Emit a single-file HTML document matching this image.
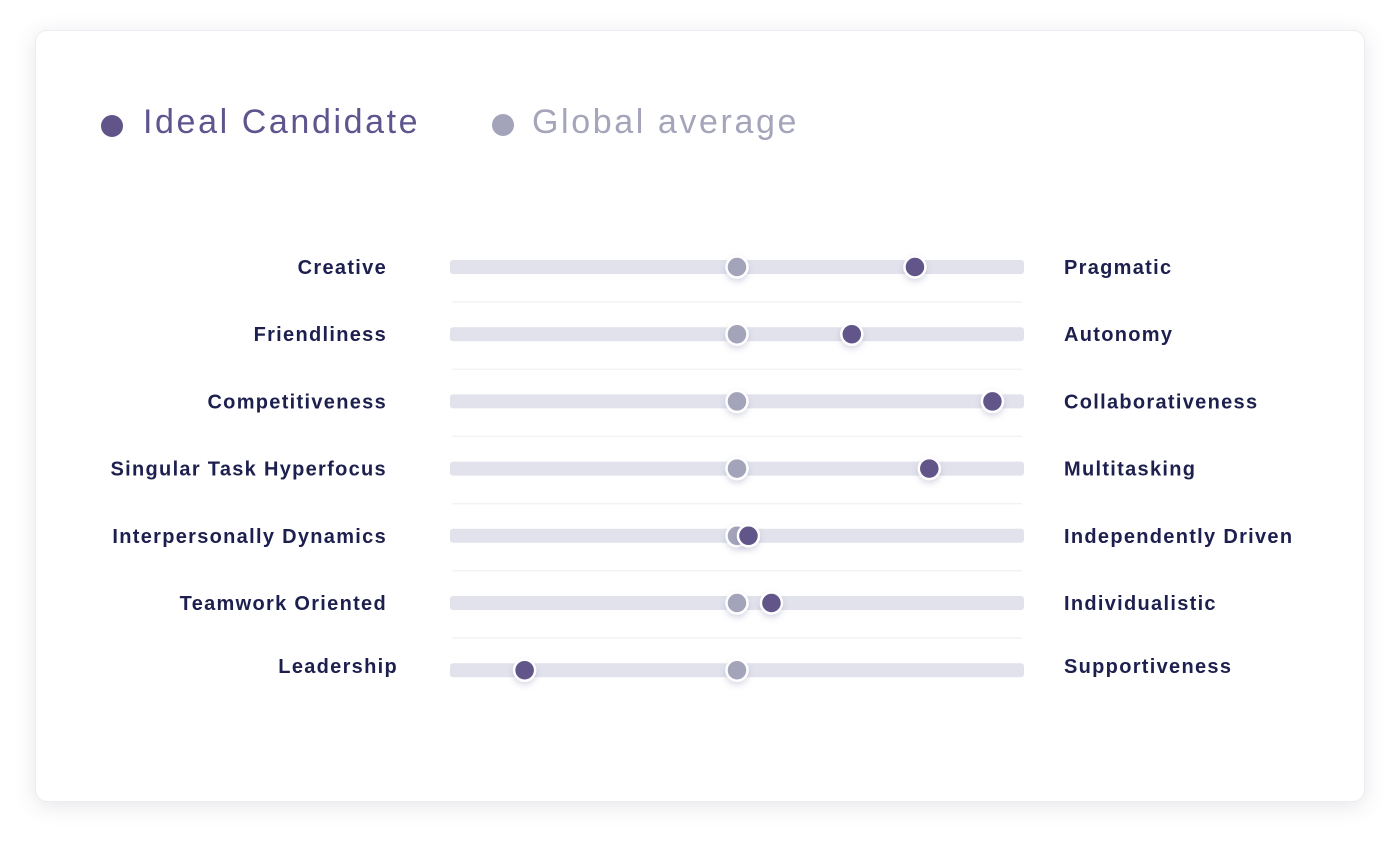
<!DOCTYPE html>
<html><head><meta charset="utf-8"><style>
body{margin:0;width:1400px;height:842px;background:#fff;font-family:"Liberation Sans",sans-serif;overflow:hidden}
.card{position:absolute;left:35px;top:30px;width:1330px;height:772px;border-radius:12px;background:#fff;box-shadow:0 4px 22px rgba(60,60,90,0.13);border:1px solid #ececf2;box-sizing:border-box}
.leg{position:absolute;top:103px;font-size:34px;letter-spacing:2.6px}
.ldot{position:absolute;width:22px;height:22px;border-radius:50%}
</style></head><body>
<div class="card"></div>
<div class="ldot" style="left:101px;top:115px;background:#605489"></div>
<div class="leg" style="left:143px;color:#5e548e">Ideal Candidate</div>
<div class="ldot" style="left:492px;top:114px;background:#a3a4ba"></div>
<div class="leg" style="left:532px;color:#a4a5bb">Global average</div>
<svg id="chart" width="1400" height="842" style="position:absolute;left:0;top:0">
<defs><filter id="sh" x="-1" y="-1" width="3" height="3"><feDropShadow dx="0" dy="3" stdDeviation="3" flood-color="#6a6a9a" flood-opacity="0.25"/></filter></defs>
</svg>
<script>
const leftLabels=["Creative","Friendliness","Competitiveness","Singular Task Hyperfocus","Interpersonally Dynamics","Teamwork Oriented","Leadership"];
const rightLabels=["Pragmatic","Autonomy","Collaborativeness","Multitasking","Independently Driven","Individualistic","Supportiveness"];
const globalValues=[50,50,50,50,50,50,50];
const idealValues=[81,70,94.5,83.5,52,56,13];
const svg=document.getElementById('chart');
const NS='http://www.w3.org/2000/svg';
const x0=450,x1=1024;
function xScale(v){return x0+(x1-x0)*v/100;}
function yRow(i){return 267+i*67.2;}
function mk(t,a){const e=document.createElementNS(NS,t);for(const k in a)e.setAttribute(k,a[k]);svg.appendChild(e);return e;}
leftLabels.forEach((lab,i)=>{
  const y=yRow(i);
  const last=i===leftLabels.length-1;
  const ly=last?y-4:y;
  if(!last){const s=mk('line',{x1:452,x2:1022,y1:y+35,y2:y+35,stroke:'#f3f3f7','stroke-width':1.5});
  
  }
  const tr=mk('rect',{x:x0,y:y-7,width:x1-x0,height:14,rx:3,fill:'#e1e2ec'});
  
  
  const lt=mk('text',{x:last?398:387,y:ly+7,'text-anchor':'end','font-size':20,'font-weight':'bold','letter-spacing':1.3,fill:'#1d1f4e','font-family':'Liberation Sans, sans-serif'});
  lt.textContent=lab;
  
  
  const rt=mk('text',{x:1064,y:ly+7,'font-size':20,'font-weight':'bold','letter-spacing':1.3,fill:'#1d1f4e','font-family':'Liberation Sans, sans-serif'});
  rt.textContent=rightLabels[i];
  
  
  const g=mk('circle',{cx:xScale(globalValues[i]),cy:y,r:10.5,fill:'#a3a4ba',stroke:'#fff','stroke-width':2.5,filter:'url(#sh)'});
  
  
  const d=mk('circle',{cx:xScale(idealValues[i]),cy:y,r:10.5,fill:'#625589',stroke:'#fff','stroke-width':2.5,filter:'url(#sh)'});
  
  
});
</script>
</body></html>
